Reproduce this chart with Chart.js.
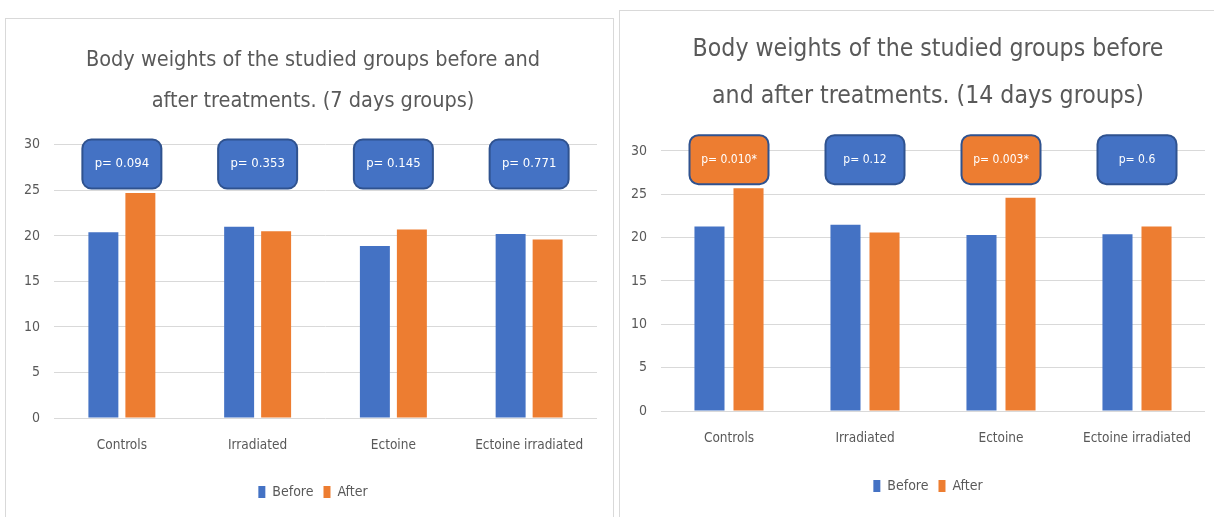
<!DOCTYPE html>
<html>
<head>
<meta charset="utf-8">
<script src="https://cdn.jsdelivr.net/npm/chart.js@4"></script>
<style>
body { margin: 0; background: #fff; width: 1214px; height: 517px; overflow: hidden; position: relative; }
.panel { position: absolute; border: 1px solid #d9d9d9; background: #fff; }
#p7 { left: 5px; top: 18px; width: 607px; height: 505px; }
#p14 { left: 619px; top: 10px; width: 600px; height: 515px; }
.box { position: relative; }
</style>
</head>
<body>
<div class="panel" id="p7"><div class="box" style="width:607px;height:498px"><canvas id="c7"></canvas></div></div>
<div class="panel" id="p14"><div class="box" style="width:594px;height:506px"><canvas id="c14"></canvas></div></div>
<script>
const categories = ["Controls", "Irradiated", "Ectoine", "Ectoine irradiated"];
const before7 = [20.4, 21.0, 18.9, 20.2];
const after7 = [24.7, 20.5, 20.7, 19.6];
const pValues7 = ["p= 0.094", "p= 0.353", "p= 0.145", "p= 0.771"];
const before14 = [21.3, 21.5, 20.3, 20.4];
const after14 = [25.7, 20.6, 24.6, 21.3];
const pValues14 = ["p= 0.010*", "p= 0.12", "p= 0.003*", "p= 0.6"];

const FONT = "'DejaVu Sans Condensed', 'Liberation Sans Narrow', sans-serif";
const GREY = "#595959";

// rounded p-value boxes above each group
function callouts(labels, level, fontSize) {
    return {
        id: "callouts",
        afterDatasetsDraw(chart) {
            const { ctx, scales: { x, y } } = chart;
            labels.forEach((txt, i) => {
                const cx = x.getPixelForValue(i);
                const cy = y.getPixelForValue(level);
                const w = 79, h = 49;
                ctx.save();
                ctx.beginPath();
                ctx.roundRect(cx - w / 2, cy - h / 2, w, h, 9);
                ctx.fillStyle = txt.includes("*") ? "#ED7D31" : "#4472C4";
                ctx.fill();
                ctx.lineWidth = 2;
                ctx.strokeStyle = "#2F528F";
                ctx.stroke();
                ctx.fillStyle = "#fff";
                ctx.font = fontSize + "px " + FONT;
                ctx.textAlign = "center";
                ctx.textBaseline = "middle";
                ctx.fillText(txt, cx, cy);
                ctx.restore();
            });
        },
    };
}

// let the y tick labels use the left padding instead of being clipped
const unclipY = {
    id: "unclipY",
    afterLayout(chart) {
        chart.scales.y.left = 0;
    },
};

function makeChart(id, title, before, after, pValues, o) {
    return new Chart(document.getElementById(id), {
        type: "bar",
        data: {
            labels: categories,
            datasets: [
                {
                    label: "Before",
                    data: before,
                    backgroundColor: "#4472C4",
                    borderWidth: 0,
                    categoryPercentage: o.cat,
                    barPercentage: o.bar,
                },
                {
                    label: "After",
                    data: after,
                    backgroundColor: "#ED7D31",
                    borderWidth: 0,
                    categoryPercentage: o.cat,
                    barPercentage: o.bar,
                },
            ],
        },
        options: {
            responsive: true,
            maintainAspectRatio: false,
            animation: false,
            layout: { padding: { left: o.padLeft, right: o.padRight, top: 0, bottom: o.padBottom } },
            plugins: {
                title: {
                    display: true,
                    text: title,
                    color: GREY,
                    font: { family: FONT, size: o.titleSize, weight: "normal", lineHeight: o.titleLine },
                    padding: { top: o.titleTop, bottom: o.titleBottom },
                },
                legend: {
                    position: "bottom",
                    labels: {
                        color: GREY,
                        font: { family: FONT, size: 14 },
                        boxWidth: 7,
                        boxHeight: 12,
                        padding: 10,
                    },
                },
                tooltip: { enabled: false },
            },
            scales: {
                x: {
                    grid: { display: false, drawTicks: false },
                    border: { display: false },
                    ticks: { color: GREY, font: { family: FONT, size: 13.5 }, padding: o.xPad, maxRotation: 0 },
                    afterFit: (s) => { s.height = o.xHeight; },
                },
                y: {
                    min: 0,
                    max: 30,
                    ticks: { stepSize: 5, color: GREY, font: { family: FONT, size: 14 }, padding: 14 },
                    grid: { color: "#d9d9d9", drawTicks: false },
                    border: { display: false },
                    afterFit: (s) => { s.width = o.yWidth; },
                },
            },
        },
        plugins: [unclipY, callouts(pValues, o.level, o.pSize)],
    });
}

makeChart("c7", ["Body weights of the studied groups before and", "after treatments. (7 days groups)"],
    before7, after7, pValues7, {
        cat: 0.545, bar: 0.81, padLeft: 23, padRight: 16, padBottom: 8,
        titleSize: 21.5, titleLine: 1.95, titleTop: 20, titleBottom: 22,
        xPad: 19, xHeight: 57, yWidth: 25, level: 27.9, pSize: 13,
    });

makeChart("c14", ["Body weights of the studied groups before", "and after treatments. (14 days groups)"],
    before14, after14, pValues14, {
        cat: 0.574, bar: 0.77, padLeft: 31, padRight: 9, padBottom: 14,
        titleSize: 24.6, titleLine: 1.91, titleTop: 15.5, titleBottom: 30.5,
        xPad: 19, xHeight: 58, yWidth: 10, level: 29, pSize: 12,
    });
</script>
</body>
</html>
